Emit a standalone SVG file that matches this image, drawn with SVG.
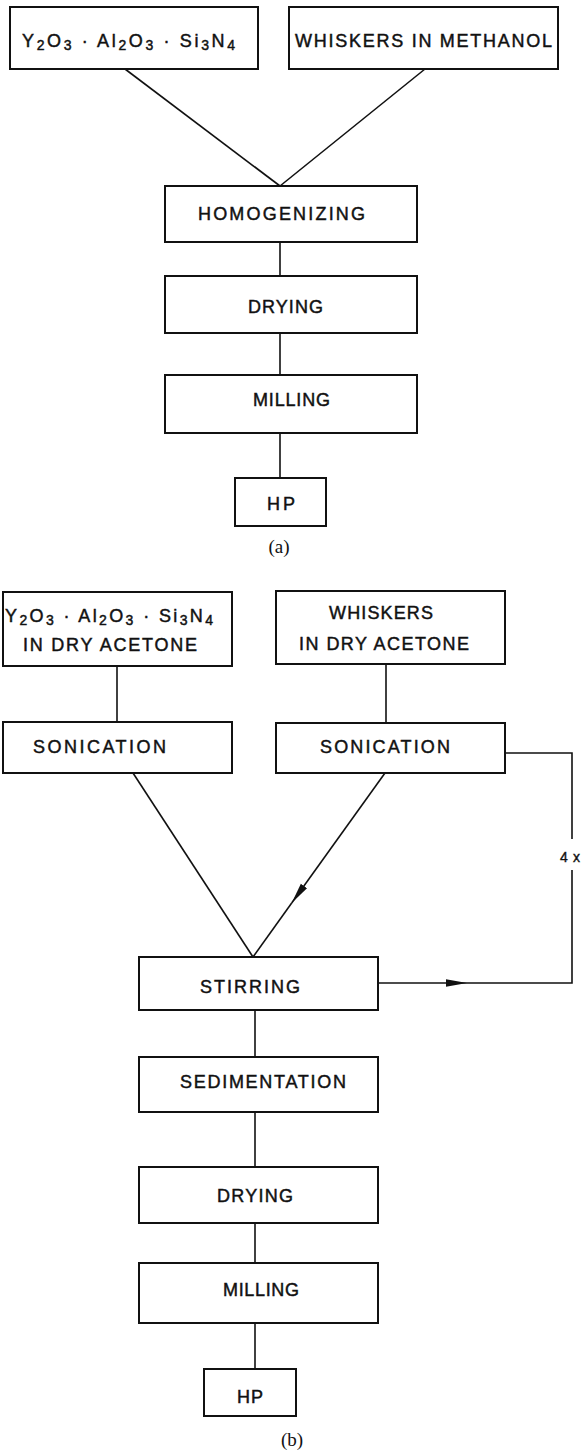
<svg xmlns="http://www.w3.org/2000/svg" width="582" height="1452" viewBox="0 0 582 1452">
<style>
.box{fill:#fff;stroke:#111;stroke-width:2}
.ln{fill:none;stroke:#111;stroke-width:1.6}
.t{font-family:"Liberation Sans",Arial,sans-serif;font-size:18px;fill:#111;stroke:#111;stroke-width:0.45}
.sub{font-size:14px}
.cap{font-family:"Liberation Serif","Times New Roman",serif;font-size:19px;fill:#111;text-anchor:middle}
.sm{font-family:"Liberation Sans",Arial,sans-serif;font-size:14px;fill:#111;stroke:#111;stroke-width:0.4}
</style>
<defs>
<marker id="arrow" markerUnits="userSpaceOnUse" markerWidth="22" markerHeight="10" refX="21" refY="5" orient="auto">
<path d="M0,1.2 L21,5 L0,8.8 z" fill="#111"/>
</marker>
</defs>
<rect width="582" height="1452" fill="#fff"/>

<g id="connectors">
<line class="ln" x1="125" y1="69" x2="280" y2="186"/>
<line class="ln" x1="425" y1="69" x2="280" y2="186"/>
<line class="ln" x1="280" y1="242" x2="280" y2="276"/>
<line class="ln" x1="280" y1="333" x2="280" y2="375"/>
<line class="ln" x1="280" y1="433" x2="280" y2="478"/>

<line class="ln" x1="117" y1="666" x2="117" y2="722"/>
<line class="ln" x1="386" y1="664" x2="386" y2="723"/>
<line class="ln" x1="133" y1="773" x2="253" y2="957"/>
<line class="ln" x1="385" y1="773" x2="291.7" y2="903" marker-end="url(#arrow)"/>
<line class="ln" x1="291.7" y1="903" x2="253" y2="957"/>
<polyline class="ln" points="505,753 572,753 572,839"/>
<line class="ln" x1="378" y1="983" x2="467" y2="983" marker-end="url(#arrow)"/>
<polyline class="ln" points="467,983 572,983 572,870"/>
<line class="ln" x1="255" y1="1010" x2="255" y2="1057"/>
<line class="ln" x1="255" y1="1112" x2="255" y2="1167"/>
<line class="ln" x1="255" y1="1223" x2="255" y2="1263"/>
<line class="ln" x1="255" y1="1323" x2="255" y2="1369"/>
<text class="sm" x="560" y="862" textLength="20" lengthAdjust="spacing">4x</text>
</g>

<g id="a-mix-powder">
<rect class="box" x="10" y="7" width="248" height="62"/>
<text class="t" x="22" y="46.5" textLength="213" lengthAdjust="spacing">Y<tspan class="sub" dy="3">2</tspan><tspan dy="-3">O</tspan><tspan class="sub" dy="3">3</tspan><tspan dy="-3"> · Al</tspan><tspan class="sub" dy="3">2</tspan><tspan dy="-3">O</tspan><tspan class="sub" dy="3">3</tspan><tspan dy="-3"> · Si</tspan><tspan class="sub" dy="3">3</tspan><tspan dy="-3">N</tspan><tspan class="sub" dy="3">4</tspan></text>
</g>
<g id="a-whiskers">
<rect class="box" x="289" y="7" width="269" height="62"/>
<text class="t" x="295" y="46.5" textLength="257" lengthAdjust="spacing">WHISKERS IN METHANOL</text>
</g>
<g id="a-homogenizing">
<rect class="box" x="165" y="186" width="252" height="56"/>
<text class="t" x="198" y="219.5" textLength="167" lengthAdjust="spacing">HOMOGENIZING</text>
</g>
<g id="a-drying">
<rect class="box" x="165" y="276" width="252" height="57"/>
<text class="t" x="248" y="313" textLength="75" lengthAdjust="spacing">DRYING</text>
</g>
<g id="a-milling">
<rect class="box" x="165" y="375" width="252" height="58"/>
<text class="t" x="253" y="406" textLength="77" lengthAdjust="spacing">MILLING</text>
</g>
<g id="a-hp">
<rect class="box" x="235" y="478" width="91" height="48"/>
<text class="t" x="267" y="510" textLength="28" lengthAdjust="spacing">HP</text>
</g>
<text class="cap" x="279" y="553">(a)</text>

<g id="b-mix-powder">
<rect class="box" x="3" y="592" width="229" height="74"/>
<text class="t" x="5" y="622" textLength="208" lengthAdjust="spacing">Y<tspan class="sub" dy="3">2</tspan><tspan dy="-3">O</tspan><tspan class="sub" dy="3">3</tspan><tspan dy="-3"> · Al</tspan><tspan class="sub" dy="3">2</tspan><tspan dy="-3">O</tspan><tspan class="sub" dy="3">3</tspan><tspan dy="-3"> · Si</tspan><tspan class="sub" dy="3">3</tspan><tspan dy="-3">N</tspan><tspan class="sub" dy="3">4</tspan></text>
<text class="t" x="23" y="651" textLength="174" lengthAdjust="spacing">IN DRY ACETONE</text>
</g>
<g id="b-whiskers">
<rect class="box" x="276" y="591" width="229" height="73"/>
<text class="t" x="329" y="618.5" textLength="104" lengthAdjust="spacing">WHISKERS</text>
<text class="t" x="299" y="650" textLength="170" lengthAdjust="spacing">IN DRY ACETONE</text>
</g>
<g id="b-sonication-1">
<rect class="box" x="3" y="722" width="229" height="51"/>
<text class="t" x="33" y="753" textLength="133" lengthAdjust="spacing">SONICATION</text>
</g>
<g id="b-sonication-2">
<rect class="box" x="276" y="723" width="229" height="50"/>
<text class="t" x="320" y="753" textLength="130" lengthAdjust="spacing">SONICATION</text>
</g>
<g id="b-stirring">
<rect class="box" x="139" y="957" width="239" height="53"/>
<text class="t" x="200" y="993" textLength="100" lengthAdjust="spacing">STIRRING</text>
</g>
<g id="b-sedimentation">
<rect class="box" x="139" y="1057" width="239" height="55"/>
<text class="t" x="180" y="1088" textLength="166" lengthAdjust="spacing">SEDIMENTATION</text>
</g>
<g id="b-drying">
<rect class="box" x="139" y="1167" width="239" height="56"/>
<text class="t" x="217" y="1202" textLength="76" lengthAdjust="spacing">DRYING</text>
</g>
<g id="b-milling">
<rect class="box" x="139" y="1263" width="239" height="60"/>
<text class="t" x="223" y="1296" textLength="76" lengthAdjust="spacing">MILLING</text>
</g>
<g id="b-hp">
<rect class="box" x="204" y="1369" width="92" height="47"/>
<text class="t" x="237" y="1403" textLength="26" lengthAdjust="spacing">HP</text>
</g>
<text class="cap" x="292" y="1446">(b)</text>
</svg>
